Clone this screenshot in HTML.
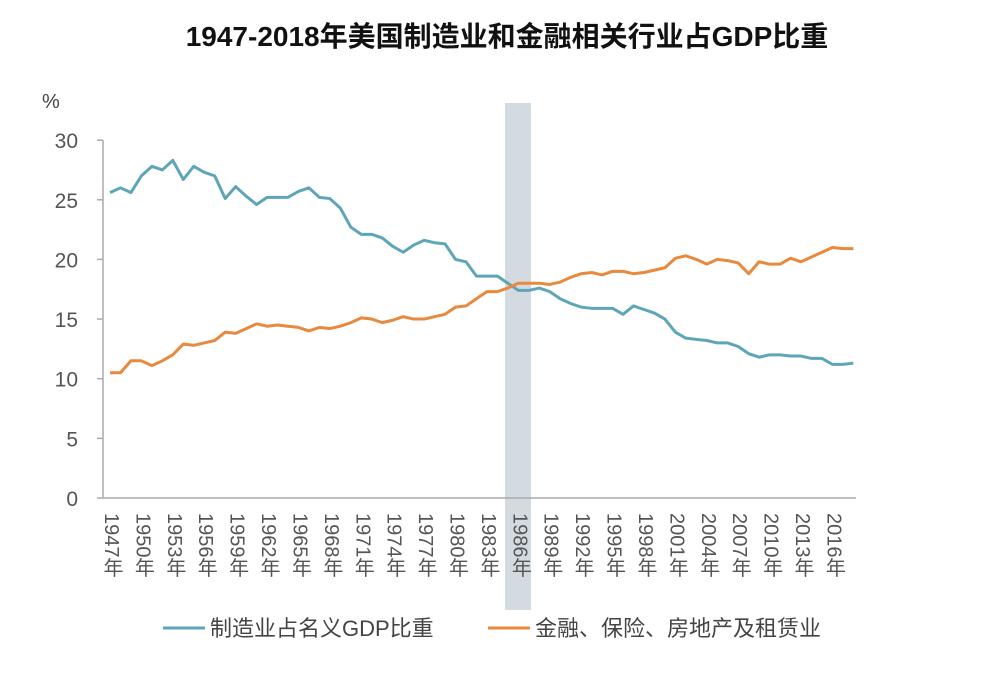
<!DOCTYPE html>
<html><head><meta charset="utf-8"><style>
body{margin:0;background:#fff;width:1000px;height:680px;overflow:hidden;font-family:"Liberation Sans","Noto Sans CJK SC",sans-serif}
svg text{font-family:"Liberation Sans","Noto Sans CJK SC",sans-serif}
</style></head><body>
<svg id="c" width="1000" height="680" xmlns="http://www.w3.org/2000/svg">
<text x="507" y="46" text-anchor="middle" font-size="28" font-weight="bold" fill="#111">1947-2018年美国制造业和金融相关行业占GDP比重</text>
<text x="42" y="108" font-size="20" fill="#444">%</text>
<rect x="505" y="103" width="26" height="507" fill="#d3dbe0"/>
<g id="axes"></g>
<g id="series"></g>
<g>
<line x1="163" y1="628" x2="205" y2="628" stroke="#5fa5b8" stroke-width="3"/>
<text x="210" y="636" font-size="22" fill="#444">制造业占名义GDP比重</text>
<line x1="488" y1="628" x2="530" y2="628" stroke="#e8893e" stroke-width="3"/>
<text x="535" y="636" font-size="22" fill="#444">金融、保险、房地产及租赁业</text>
</g>
</svg>
<script>
const years=[];for(let y=1947;y<=2018;y++)years.push(y);
const manufacturing=[25.6,26.0,25.6,27.0,27.8,27.5,28.3,26.7,27.8,27.3,27.0,25.1,26.1,25.3,24.6,25.2,25.2,25.2,25.7,26.0,25.2,25.1,24.3,22.7,22.1,22.1,21.8,21.1,20.6,21.2,21.6,21.4,21.3,20.0,19.8,18.6,18.6,18.6,18.0,17.4,17.4,17.6,17.3,16.7,16.3,16.0,15.9,15.9,15.9,15.4,16.1,15.8,15.5,15.0,13.9,13.4,13.3,13.2,13.0,13.0,12.7,12.1,11.8,12.0,12.0,11.9,11.9,11.7,11.7,11.2,11.2,11.3];
const finance=[10.5,10.5,11.5,11.5,11.1,11.5,12.0,12.9,12.8,13.0,13.2,13.9,13.8,14.2,14.6,14.4,14.5,14.4,14.3,14.0,14.3,14.2,14.4,14.7,15.1,15.0,14.7,14.9,15.2,15.0,15.0,15.2,15.4,16.0,16.1,16.7,17.3,17.3,17.6,18.0,18.0,18.0,17.9,18.1,18.5,18.8,18.9,18.7,19.0,19.0,18.8,18.9,19.1,19.3,20.1,20.3,20.0,19.6,20.0,19.9,19.7,18.8,19.8,19.6,19.6,20.1,19.8,20.2,20.6,21.0,20.9,20.9];
const yTicks=[0,5,10,15,20,25,30];
const xTickYears=[1947,1950,1953,1956,1959,1962,1965,1968,1971,1974,1977,1980,1983,1986,1989,1992,1995,1998,2001,2004,2007,2010,2013,2016];
const NS="http://www.w3.org/2000/svg";
const X=y=>110+(y-1947)*10.47;
const Y=v=>498-v*11.93;
const ax=document.getElementById('axes'),se=document.getElementById('series');
function mk(t,a,p){const e=document.createElementNS(NS,t);for(const k in a)e.setAttribute(k,a[k]);p.appendChild(e);return e;}
const yl=mk('line',{x1:103,y1:Y(30),x2:103,y2:Y(0),stroke:'#aaa','stroke-width':1.5},ax);


const xl=mk('line',{x1:103,y1:Y(0),x2:856,y2:Y(0),stroke:'#aaa','stroke-width':1.5},ax);


yTicks.forEach(v=>{
 const tk=mk('line',{x1:97,y1:Y(v),x2:103,y2:Y(v),stroke:'#aaa','stroke-width':1.5},ax);
 
 
 const t=mk('text',{x:78,y:Y(v)+8,'text-anchor':'end','font-size':21,fill:'#555'},ax);
 t.textContent=v;
 
 
});
xTickYears.forEach(yr=>{
 const t=mk('text',{x:X(yr)+1,y:513,'font-size':20,fill:'#555',style:'writing-mode:vertical-rl;'},ax);
 t.textContent=yr+'年';
 
 
});
function line(vals,color,name){
 const p=mk('polyline',{points:vals.map((v,i)=>X(years[i])+','+Y(v)).join(' '),fill:'none',stroke:color,'stroke-width':3,'stroke-linejoin':'round'},se);
 
 
}
line(manufacturing,'#5fa5b8','manufacturing-line');
line(finance,'#e8893e','finance-line');
</script>
</body></html>
